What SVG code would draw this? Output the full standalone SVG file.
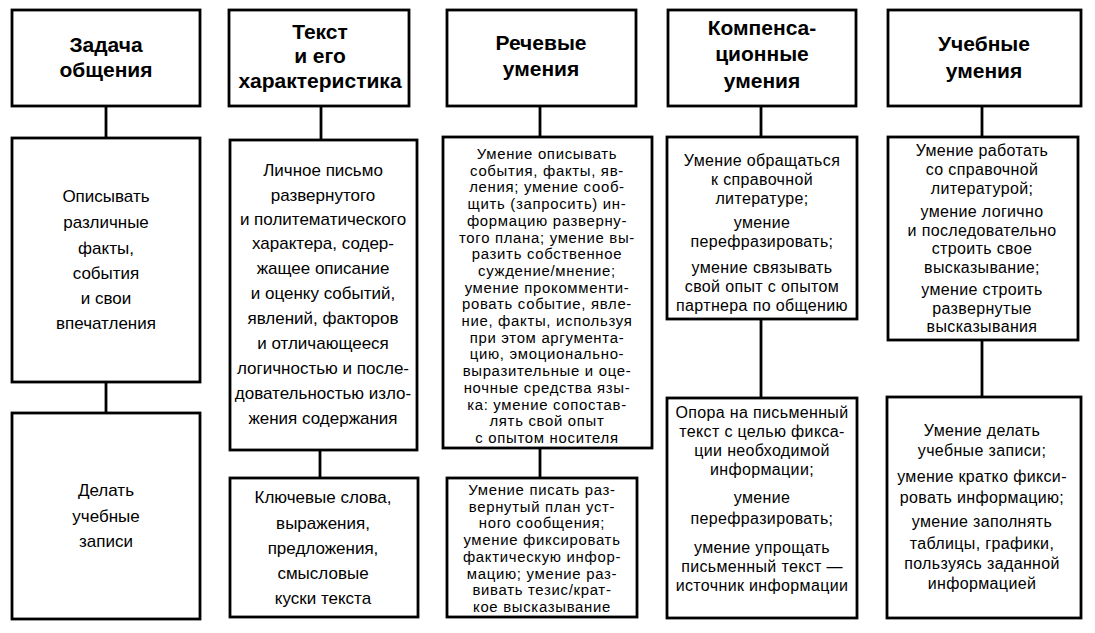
<svg xmlns="http://www.w3.org/2000/svg" width="1095" height="633" viewBox="0 0 1095 633">
<style>
.box{fill:#fff;stroke:#000;stroke-width:2.8}
.con line{stroke:#000;stroke-width:2.8}
.h{font-family:"Liberation Sans",Arial,sans-serif;font-weight:bold;font-size:21px;text-anchor:middle;fill:#000}
.t{font-family:"Liberation Sans",Arial,sans-serif;font-size:17px;text-anchor:middle;fill:#000}
.d{font-family:"Liberation Sans",Arial,sans-serif;font-size:14.9px;letter-spacing:0.7px;text-anchor:middle;fill:#000}
.m{font-family:"Liberation Sans",Arial,sans-serif;font-size:16px;letter-spacing:0.35px;text-anchor:middle;fill:#000}
</style>
<rect width="1095" height="633" fill="#fff"/>
<g class="con" id="connectors">
<line x1="106" y1="106" x2="106" y2="138"/>
<line x1="106" y1="382" x2="106" y2="413"/>
<line x1="321" y1="106" x2="321" y2="140"/>
<line x1="320" y1="450" x2="320" y2="478"/>
<line x1="540" y1="106" x2="540" y2="137"/>
<line x1="540" y1="448" x2="540" y2="478"/>
<line x1="761" y1="106" x2="761" y2="137"/>
<line x1="761" y1="319" x2="761" y2="398"/>
<line x1="982" y1="106" x2="982" y2="137"/>
<line x1="982" y1="340" x2="982" y2="397"/>
</g>
<g id="h1"><rect class="box" x="12" y="10" width="188" height="96"/>
<text class="h" x="106" y="52">Задача</text><text class="h" x="106" y="77">общения</text></g>
<g id="h2"><rect class="box" x="229" y="10" width="180" height="96"/>
<text class="h" x="320" y="39">Текст</text><text class="h" x="320" y="63">и его</text><text class="h" x="320" y="88">характеристика</text></g>
<g id="h3"><rect class="box" x="447" y="10" width="189" height="96"/>
<text class="h" x="541" y="50">Речевые</text><text class="h" x="541" y="76">умения</text></g>
<g id="h4"><rect class="box" x="668" y="10" width="188" height="96"/>
<text class="h" x="762" y="35">Компенса-</text><text class="h" x="762" y="61">ционные</text><text class="h" x="762" y="88">умения</text></g>
<g id="h5"><rect class="box" x="888" y="10" width="193" height="96"/>
<text class="h" x="984" y="51">Учебные</text><text class="h" x="984" y="78">умения</text></g>

<g id="m1"><rect class="box" x="12" y="138" width="188" height="244"/>
<text class="t" x="106" y="202">Описывать</text>
<text class="t" x="106" y="228">различные</text>
<text class="t" x="106" y="254">факты,</text>
<text class="t" x="106" y="279">события</text>
<text class="t" x="106" y="304">и свои</text>
<text class="t" x="106" y="329">впечатления</text></g>
<g id="b1"><rect class="box" x="12" y="413" width="188" height="206"/>
<text class="t" x="106" y="496">Делать</text>
<text class="t" x="106" y="522">учебные</text>
<text class="t" x="106" y="547">записи</text></g>

<g id="m2"><rect class="box" x="230" y="140" width="187" height="310"/>
<text class="t" x="323" y="176">Личное письмо</text>
<text class="t" x="323" y="201">развернутого</text>
<text class="t" x="323" y="225">и политематического</text>
<text class="t" x="323" y="249">характера, содер-</text>
<text class="t" x="323" y="274">жащее описание</text>
<text class="t" x="323" y="299">и оценку событий,</text>
<text class="t" x="323" y="324">явлений, факторов</text>
<text class="t" x="323" y="349">и отличающееся</text>
<text class="t" x="323" y="374">логичностью и после-</text>
<text class="t" x="323" y="399">довательностью изло-</text>
<text class="t" x="323" y="424">жения содержания</text></g>
<g id="b2"><rect class="box" x="230" y="478" width="188" height="139"/>
<text class="t" x="323" y="503">Ключевые слова,</text>
<text class="t" x="323" y="529">выражения,</text>
<text class="t" x="323" y="554">предложения,</text>
<text class="t" x="323" y="579">смысловые</text>
<text class="t" x="323" y="604">куски текста</text></g>

<g id="m3"><rect class="box" x="443" y="137" width="209" height="311"/>
<text class="d" x="547" y="159">Умение описывать</text>
<text class="d" x="547" y="175.7">события, факты, яв-</text>
<text class="d" x="547" y="192.4">ления; умение сооб-</text>
<text class="d" x="547" y="209.1">щить (запросить) ин-</text>
<text class="d" x="547" y="225.8">формацию разверну-</text>
<text class="d" x="547" y="242.5">того плана; умение вы-</text>
<text class="d" x="547" y="259.2">разить собственное</text>
<text class="d" x="547" y="275.9">суждение/мнение;</text>
<text class="d" x="547" y="292.6">умение прокомменти-</text>
<text class="d" x="547" y="309.3">ровать событие, явле-</text>
<text class="d" x="547" y="326">ние, факты, используя</text>
<text class="d" x="547" y="342.7">при этом аргумента-</text>
<text class="d" x="547" y="359.4">цию, эмоционально-</text>
<text class="d" x="547" y="376.1">выразительные и оце-</text>
<text class="d" x="547" y="392.8">ночные средства язы-</text>
<text class="d" x="547" y="409.5">ка: умение сопостав-</text>
<text class="d" x="547" y="426.2">лять свой опыт</text>
<text class="d" x="547" y="442.9">с опытом носителя</text></g>
<g id="b3"><rect class="box" x="447" y="478" width="190" height="139"/>
<text class="d" x="542" y="495">Умение писать раз-</text>
<text class="d" x="542" y="511.7">вернутый план уст-</text>
<text class="d" x="542" y="528.4">ного сообщения;</text>
<text class="d" x="542" y="545.1">умение фиксировать</text>
<text class="d" x="542" y="561.8">фактическую инфор-</text>
<text class="d" x="542" y="578.5">мацию; умение раз-</text>
<text class="d" x="542" y="595.2">вивать тезис/крат-</text>
<text class="d" x="542" y="611.9">кое высказывание</text></g>

<g id="m4"><rect class="box" x="667" y="137" width="190" height="182"/>
<text class="m" x="762" y="166">Умение обращаться</text>
<text class="m" x="762" y="185">к справочной</text>
<text class="m" x="762" y="203.5">литературе;</text>
<text class="m" x="762" y="228">умение</text>
<text class="m" x="762" y="247">перефразировать;</text>
<text class="m" x="762" y="273">умение связывать</text>
<text class="m" x="762" y="292">свой опыт с опытом</text>
<text class="m" x="762" y="310.5">партнера по общению</text></g>
<g id="b4"><rect class="box" x="667" y="398" width="190" height="220"/>
<text class="m" x="762" y="418">Опора на письменный</text>
<text class="m" x="762" y="437">текст с целью фикса-</text>
<text class="m" x="762" y="456">ции необходимой</text>
<text class="m" x="762" y="475">информации;</text>
<text class="m" x="762" y="503">умение</text>
<text class="m" x="762" y="524">перефразировать;</text>
<text class="m" x="762" y="553">умение упрощать</text>
<text class="m" x="762" y="572">письменный текст —</text>
<text class="m" x="762" y="591">источник информации</text></g>

<g id="m5"><rect class="box" x="888" y="137" width="190" height="203"/>
<text class="m" x="982" y="156">Умение работать</text>
<text class="m" x="982" y="175">со справочной</text>
<text class="m" x="982" y="194">литературой;</text>
<text class="m" x="982" y="217">умение логично</text>
<text class="m" x="982" y="235.5">и последовательно</text>
<text class="m" x="982" y="254">строить свое</text>
<text class="m" x="982" y="272.5">высказывание;</text>
<text class="m" x="982" y="295">умение строить</text>
<text class="m" x="982" y="313.5">развернутые</text>
<text class="m" x="982" y="332">высказывания</text></g>
<g id="b5"><rect class="box" x="887" y="397" width="194" height="221"/>
<text class="m" x="982" y="436">Умение делать</text>
<text class="m" x="982" y="456">учебные записи;</text>
<text class="m" x="982" y="482">умение кратко фикси-</text>
<text class="m" x="982" y="503">ровать информацию;</text>
<text class="m" x="982" y="527">умение заполнять</text>
<text class="m" x="982" y="549">таблицы, графики,</text>
<text class="m" x="982" y="569">пользуясь заданной</text>
<text class="m" x="982" y="589">информацией</text></g>
</svg>
